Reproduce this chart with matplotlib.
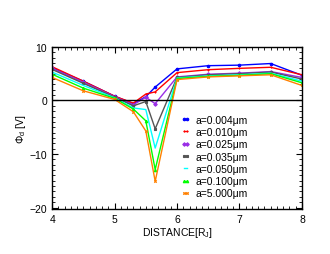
import numpy as np
import matplotlib
matplotlib.use("Agg")
import matplotlib.pyplot as plt
from matplotlib.ticker import MultipleLocator

plt.rcParams['font.family'] = ['Liberation Sans', 'DejaVu Sans']

distance = [4.0, 4.5, 5.0, 5.3, 5.5, 5.65, 6.0, 6.5, 7.0, 7.5, 8.0]
labels = ["a=0.004\u03bcm", "a=0.010\u03bcm", "a=0.025\u03bcm", "a=0.035\u03bcm",
          "a=0.050\u03bcm", "a=0.100\u03bcm", "a=5.000\u03bcm"]
phi_004 = [6.1, 3.6, 0.8, -0.6, 0.7, 2.5, 5.9, 6.5, 6.6, 6.9, 4.7]
phi_010 = [6.3, 3.6, 0.8, -0.5, 1.2, 1.6, 5.2, 5.75, 6.0, 6.2, 4.8]
phi_025 = [6.0, 3.4, 0.7, -0.8, 0.6, -0.6, 4.4, 4.9, 5.1, 5.4, 4.3]
phi_035 = [5.8, 3.2, 0.6, -1.0, -0.2, -5.3, 4.3, 4.8, 5.0, 5.3, 4.0]
phi_050 = [5.3, 2.8, 0.5, -1.4, -1.7, -8.9, 4.2, 4.6, 4.8, 5.1, 3.6]
phi_100 = [4.9, 2.3, 0.4, -1.6, -3.8, -12.9, 4.1, 4.5, 4.7, 5.0, 3.3]
phi_5000 = [4.3, 1.8, 0.2, -2.1, -5.7, -15.1, 3.9, 4.4, 4.6, 4.8, 2.8]

series = [phi_004, phi_010, phi_025, phi_035, phi_050, phi_100, phi_5000]
colors = ['#0000ff', '#ff0000', '#9a2ee6', '#555555', '#00ffff', '#00ff00', '#ff8000']
markers = ['o', '+', 'D', 's', '', '^', 'x']

fig = plt.figure(figsize=(3.3, 2.55), dpi=100)
ax = fig.add_axes([0.158, 0.176, 0.757, 0.636])

for y, c, m, lab in zip(series, colors, markers, labels):
    ax.plot(distance, y, color=c, marker=m, markersize=1.8, mew=0.8, lw=1.0, label=lab)

ax.axhline(0, color='black', lw=1.0)

ax.set_xlim(4, 8)
ax.set_ylim(-20.3, 10)
ax.set_xticks([4, 5, 6, 7, 8])
ax.set_yticks([-20, -10, 0, 10])
ax.xaxis.set_minor_locator(MultipleLocator(0.1))
ax.yaxis.set_minor_locator(MultipleLocator(1))
ax.tick_params(which='both', direction='in', top=True, right=True, labelsize=7.5)
ax.tick_params(which='major', length=4)
ax.tick_params(which='minor', length=2)
for s in ax.spines.values():
    s.set_linewidth(1.0)

ax.set_xlabel("DISTANCE[R$_\\mathregular{J}$]", fontsize=7.5, labelpad=1)
ax.set_ylabel("\u03a6$_\\mathregular{d}$ [V]", fontsize=7.5, labelpad=1)

ax.legend(loc='lower left', bbox_to_anchor=(0.5, 0.04), frameon=False, fontsize=7.5,
          handlelength=0.9, handletextpad=0.45, labelspacing=0.22, numpoints=2,
          borderaxespad=0)

fig.savefig("out.png", dpi=100)
